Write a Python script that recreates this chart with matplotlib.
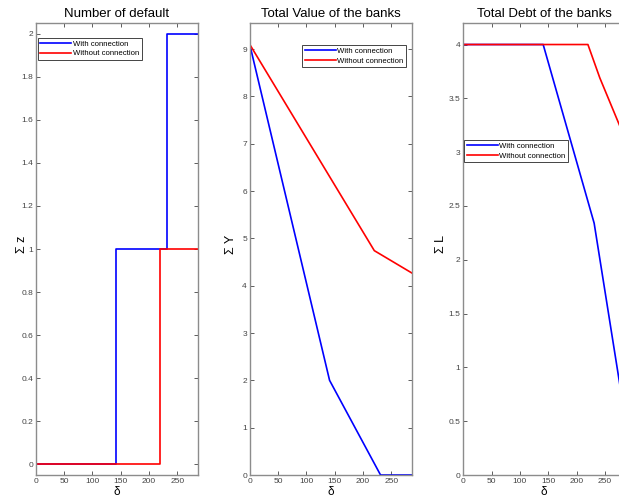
import matplotlib
matplotlib.use("Agg")
import matplotlib.pyplot as plt

plt.rcParams["font.family"] = ["Liberation Sans", "DejaVu Sans"]

# number of defaults (step data)
default_x_with = [0, 141, 232, 286]
default_y_with = [0, 1, 2, 2]
default_x_without = [0, 220, 286]
default_y_without = [0, 1, 1]

# total value of the banks
value_x_with = [0, 141, 231, 286]
value_y_with = [9.1, 2.0, 0.0, 0.0]
value_x_without = [0, 220, 286]
value_y_without = [9.1, 4.74, 4.27]

# total debt of the banks
debt_x_with = [0, 141, 231, 286]
debt_y_with = [4.0, 4.0, 2.34, 0.52]
debt_x_without = [0, 220, 241, 286]
debt_y_without = [4.0, 4.0, 3.69, 3.12]

BLUE = "#0000ff"
RED = "#ff0000"

fig = plt.figure(figsize=(6.19, 4.98), dpi=100)

W = 162 / 619
B = 1 - 475 / 498
H = 452 / 498
lefts = [35.7 / 619, 249.7 / 619, 463.3 / 619]
axes = [fig.add_axes([l, B, W, H]) for l in lefts]


def style(ax, title, ylabel, yticks, ylim, ylab_x):
    ax.set_xlim(0, 286)
    ax.set_ylim(*ylim)
    ax.set_xticks(range(0, 300, 50))
    ax.set_yticks(yticks)
    ax.set_yticklabels([("%g" % t) for t in yticks])
    ax.tick_params(direction="in", top=True, right=True, length=3, width=0.6,
                   labelsize=6, labelcolor="#444444", color="#444444", pad=2)
    for s in ax.spines.values():
        s.set_color("#8c8c8c")
        s.set_linewidth(1.0)
    ax.set_title(title, fontsize=9.5, pad=4)
    ax.set_xlabel("δ", fontsize=8.5, labelpad=1)
    ax.set_ylabel(ylabel, fontsize=9)
    ax.yaxis.set_label_coords(ylab_x, 0.51)


def legend(ax, anchor):
    leg = ax.legend(loc="upper left", bbox_to_anchor=anchor, fontsize=5.6,
                    fancybox=False, edgecolor="#444444", framealpha=1,
                    handlelength=4.0, handletextpad=0.2, borderpad=0.3,
                    labelspacing=0.3, borderaxespad=0)
    leg.get_frame().set_linewidth(0.7)


ax = axes[0]
ax.step(default_x_with, default_y_with, where="post", color=BLUE, lw=1.2, label="With connection")
ax.step(default_x_without, default_y_without, where="post", color=RED, lw=1.2, label="Without connection")
style(ax, "Number of default", "Σ z", [0, 0.2, 0.4, 0.6, 0.8, 1, 1.2, 1.4, 1.6, 1.8, 2], (-0.05, 2.05), -0.05)
legend(ax, (0.014, 0.967))

ax = axes[1]
ax.plot(value_x_with, value_y_with, color=BLUE, lw=1.2, label="With connection")
ax.plot(value_x_without, value_y_without, color=RED, lw=1.2, label="Without connection")
style(ax, "Total Value of the banks", "Σ Y", list(range(0, 10)), (0, 9.55), -0.08)
legend(ax, (0.325, 0.951))

ax = axes[2]
ax.plot(debt_x_with, debt_y_with, color=BLUE, lw=1.2, label="With connection")
ax.plot(debt_x_without, debt_y_without, color=RED, lw=1.2, label="Without connection")
style(ax, "Total Debt of the banks", "Σ L", [0, 0.5, 1, 1.5, 2, 2.5, 3, 3.5, 4], (0, 4.2), -0.10)
legend(ax, (0.006, 0.741))

fig.savefig("out.png", dpi=100)
